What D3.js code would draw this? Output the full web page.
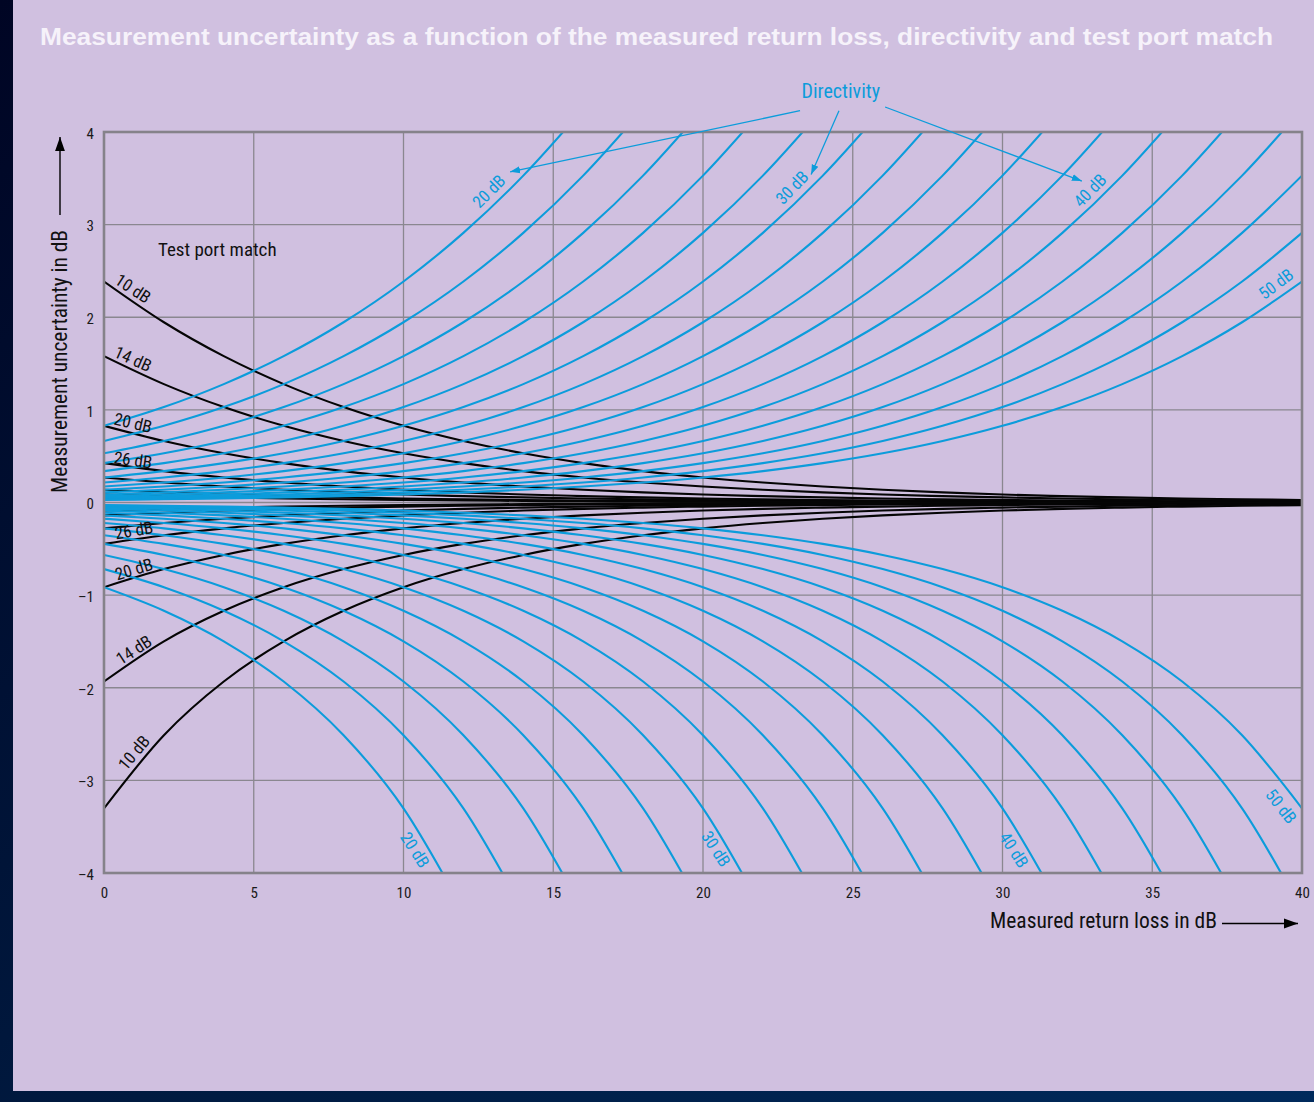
<!DOCTYPE html>
<html><head><meta charset="utf-8">
<script src="https://cdn.jsdelivr.net/npm/d3@7"></script>
<style>
html,body{margin:0;padding:0;background:#001a40;}
svg{display:block;}
</style></head><body>
<svg id="chart" width="1314" height="1102"></svg>
<script>
// ---------- DATA ----------
const returnLoss = [0,2,4,6,8,10,12,14,16,18,20,22,24,26,28,30,32,34,36,38,40];
const xTicks = [0,5,10,15,20,25,30,35,40];
const xTickLabels = ["0","5","10","15","20","25","30","35","40"];
const yTicks = [-4,-3,-2,-1,0,1,2,3,4];
const yTickLabels = ["\u20134","\u20133","\u20132","\u20131","0","1","2","3","4"];

const directivity = [20,22,24,26,28,30,32,34,36,38,40,42,44,46,48,50];
// upper uncertainty (dB) at returnLoss[0..], per directivity curve
const directivityUpper = [
 [0.828,1.030,1.278,1.580,1.946,2.386,2.911,3.529,4.249],
 [0.664,0.828,1.030,1.278,1.580,1.946,2.386,2.911,3.529,4.249],
 [0.531,0.664,0.828,1.030,1.278,1.580,1.946,2.386,2.911,3.529,4.249],
 [0.425,0.531,0.664,0.828,1.030,1.278,1.580,1.946,2.386,2.911,3.529,4.249],
 [0.339,0.425,0.531,0.664,0.828,1.030,1.278,1.580,1.946,2.386,2.911,3.529,4.249],
 [0.270,0.339,0.425,0.531,0.664,0.828,1.030,1.278,1.580,1.946,2.386,2.911,3.529,4.249],
 [0.216,0.270,0.339,0.425,0.531,0.664,0.828,1.030,1.278,1.580,1.946,2.386,2.911,3.529,4.249],
 [0.172,0.216,0.270,0.339,0.425,0.531,0.664,0.828,1.030,1.278,1.580,1.946,2.386,2.911,3.529,4.249],
 [0.137,0.172,0.216,0.270,0.339,0.425,0.531,0.664,0.828,1.030,1.278,1.580,1.946,2.386,2.911,3.529,4.249],
 [0.109,0.137,0.172,0.216,0.270,0.339,0.425,0.531,0.664,0.828,1.030,1.278,1.580,1.946,2.386,2.911,3.529,4.249],
 [0.086,0.109,0.137,0.172,0.216,0.270,0.339,0.425,0.531,0.664,0.828,1.030,1.278,1.580,1.946,2.386,2.911,3.529,4.249],
 [0.069,0.086,0.109,0.137,0.172,0.216,0.270,0.339,0.425,0.531,0.664,0.828,1.030,1.278,1.580,1.946,2.386,2.911,3.529,4.249],
 [0.055,0.069,0.086,0.109,0.137,0.172,0.216,0.270,0.339,0.425,0.531,0.664,0.828,1.030,1.278,1.580,1.946,2.386,2.911,3.529,4.249],
 [0.043,0.055,0.069,0.086,0.109,0.137,0.172,0.216,0.270,0.339,0.425,0.531,0.664,0.828,1.030,1.278,1.580,1.946,2.386,2.911,3.529],
 [0.035,0.043,0.055,0.069,0.086,0.109,0.137,0.172,0.216,0.270,0.339,0.425,0.531,0.664,0.828,1.030,1.278,1.580,1.946,2.386,2.911],
 [0.027,0.035,0.043,0.055,0.069,0.086,0.109,0.137,0.172,0.216,0.270,0.339,0.425,0.531,0.664,0.828,1.030,1.278,1.580,1.946,2.386]
];
const directivityLower = [
 [-0.915,-1.169,-1.499,-1.933,-2.513,-3.302,-4.409],
 [-0.719,-0.915,-1.169,-1.499,-1.933,-2.513,-3.302,-4.409],
 [-0.566,-0.719,-0.915,-1.169,-1.499,-1.933,-2.513,-3.302,-4.409],
 [-0.447,-0.566,-0.719,-0.915,-1.169,-1.499,-1.933,-2.513,-3.302,-4.409],
 [-0.353,-0.447,-0.566,-0.719,-0.915,-1.169,-1.499,-1.933,-2.513,-3.302,-4.409],
 [-0.279,-0.353,-0.447,-0.566,-0.719,-0.915,-1.169,-1.499,-1.933,-2.513,-3.302,-4.409],
 [-0.221,-0.279,-0.353,-0.447,-0.566,-0.719,-0.915,-1.169,-1.499,-1.933,-2.513,-3.302,-4.409],
 [-0.175,-0.221,-0.279,-0.353,-0.447,-0.566,-0.719,-0.915,-1.169,-1.499,-1.933,-2.513,-3.302,-4.409],
 [-0.139,-0.175,-0.221,-0.279,-0.353,-0.447,-0.566,-0.719,-0.915,-1.169,-1.499,-1.933,-2.513,-3.302,-4.409],
 [-0.110,-0.139,-0.175,-0.221,-0.279,-0.353,-0.447,-0.566,-0.719,-0.915,-1.169,-1.499,-1.933,-2.513,-3.302,-4.409],
 [-0.087,-0.110,-0.139,-0.175,-0.221,-0.279,-0.353,-0.447,-0.566,-0.719,-0.915,-1.169,-1.499,-1.933,-2.513,-3.302,-4.409],
 [-0.069,-0.087,-0.110,-0.139,-0.175,-0.221,-0.279,-0.353,-0.447,-0.566,-0.719,-0.915,-1.169,-1.499,-1.933,-2.513,-3.302,-4.409],
 [-0.055,-0.069,-0.087,-0.110,-0.139,-0.175,-0.221,-0.279,-0.353,-0.447,-0.566,-0.719,-0.915,-1.169,-1.499,-1.933,-2.513,-3.302,-4.409],
 [-0.044,-0.055,-0.069,-0.087,-0.110,-0.139,-0.175,-0.221,-0.279,-0.353,-0.447,-0.566,-0.719,-0.915,-1.169,-1.499,-1.933,-2.513,-3.302,-4.409],
 [-0.035,-0.044,-0.055,-0.069,-0.087,-0.110,-0.139,-0.175,-0.221,-0.279,-0.353,-0.447,-0.566,-0.719,-0.915,-1.169,-1.499,-1.933,-2.513,-3.302,-4.409],
 [-0.028,-0.035,-0.044,-0.055,-0.069,-0.087,-0.110,-0.139,-0.175,-0.221,-0.279,-0.353,-0.447,-0.566,-0.719,-0.915,-1.169,-1.499,-1.933,-2.513,-3.302]
];

const portMatch = [10,14,20,26,30,36,40];
const portMatchUpper = [
 [2.386,1.946,1.580,1.278,1.030,0.828,0.664,0.531,0.425,0.339,0.270,0.216,0.172,0.137,0.109,0.086,0.069,0.055,0.043,0.035,0.027],
 [1.580,1.278,1.030,0.828,0.664,0.531,0.425,0.339,0.270,0.216,0.172,0.137,0.109,0.086,0.069,0.055,0.043,0.035,0.027,0.022,0.017],
 [0.828,0.664,0.531,0.425,0.339,0.270,0.216,0.172,0.137,0.109,0.086,0.069,0.055,0.043,0.035,0.027,0.022,0.017,0.014,0.011,0.009],
 [0.425,0.339,0.270,0.216,0.172,0.137,0.109,0.086,0.069,0.055,0.043,0.035,0.027,0.022,0.017,0.014,0.011,0.009,0.007,0.005,0.004],
 [0.270,0.216,0.172,0.137,0.109,0.086,0.069,0.055,0.043,0.035,0.027,0.022,0.017,0.014,0.011,0.009,0.007,0.005,0.004,0.003,0.003],
 [0.137,0.109,0.086,0.069,0.055,0.043,0.035,0.027,0.022,0.017,0.014,0.011,0.009,0.007,0.005,0.004,0.003,0.003,0.002,0.002,0.001],
 [0.086,0.069,0.055,0.043,0.035,0.027,0.022,0.017,0.014,0.011,0.009,0.007,0.005,0.004,0.003,0.003,0.002,0.002,0.001,0.001,0.001]
];
const portMatchLower = [
 [-3.302,-2.513,-1.933,-1.499,-1.169,-0.915,-0.719,-0.566,-0.447,-0.353,-0.279,-0.221,-0.175,-0.139,-0.110,-0.087,-0.069,-0.055,-0.044,-0.035,-0.028],
 [-1.933,-1.499,-1.169,-0.915,-0.719,-0.566,-0.447,-0.353,-0.279,-0.221,-0.175,-0.139,-0.110,-0.087,-0.069,-0.055,-0.044,-0.035,-0.028,-0.022,-0.017],
 [-0.915,-0.719,-0.566,-0.447,-0.353,-0.279,-0.221,-0.175,-0.139,-0.110,-0.087,-0.069,-0.055,-0.044,-0.035,-0.028,-0.022,-0.017,-0.014,-0.011,-0.009],
 [-0.447,-0.353,-0.279,-0.221,-0.175,-0.139,-0.110,-0.087,-0.069,-0.055,-0.044,-0.035,-0.028,-0.022,-0.017,-0.014,-0.011,-0.009,-0.007,-0.005,-0.004],
 [-0.279,-0.221,-0.175,-0.139,-0.110,-0.087,-0.069,-0.055,-0.044,-0.035,-0.028,-0.022,-0.017,-0.014,-0.011,-0.009,-0.007,-0.005,-0.004,-0.003,-0.003],
 [-0.139,-0.110,-0.087,-0.069,-0.055,-0.044,-0.035,-0.028,-0.022,-0.017,-0.014,-0.011,-0.009,-0.007,-0.005,-0.004,-0.003,-0.003,-0.002,-0.002,-0.001],
 [-0.087,-0.069,-0.055,-0.044,-0.035,-0.028,-0.022,-0.017,-0.014,-0.011,-0.009,-0.007,-0.005,-0.004,-0.003,-0.003,-0.002,-0.002,-0.001,-0.001,-0.001]
];

const titleText = "Measurement uncertainty as a function of the measured return loss, directivity and test port match";
const yTitle = "Measurement uncertainty in dB";
const xTitle = "Measured return loss in dB";
const directivityLabelTexts = ["20 dB","30 dB","40 dB","50 dB","20 dB","30 dB","40 dB","50 dB"];
const portMatchLabelTexts = ["10 dB","14 dB","20 dB","26 dB","26 dB","20 dB","14 dB","10 dB"];

// ---------- LAYOUT ----------
const W = 1314, H = 1102;
const L = 104, R = 1302, T = 132, B = 873;
const FONT = "'Liberation Sans Narrow','Roboto Condensed','Arial Narrow','DejaVu Sans Condensed',sans-serif";
const BLUE = "#0c9cdb";

const svg = d3.select("#chart");
const defs = svg.append("defs");
const bg = defs.append("linearGradient").attr("id","bg")
  .attr("x1","0").attr("y1","0").attr("x2","1").attr("y2","1");
bg.append("stop").attr("offset","0").attr("stop-color","#000524");
bg.append("stop").attr("offset","0.55").attr("stop-color","#001a40");
bg.append("stop").attr("offset","1").attr("stop-color","#002a5c");
defs.append("clipPath").attr("id","plotClip").append("rect")
  .attr("x",L).attr("y",T).attr("width",R-L).attr("height",B-T);
function marker(id, color, size){
  defs.append("marker").attr("id",id).attr("viewBox","0 0 10 10")
    .attr("refX",10).attr("refY",5).attr("markerWidth",size).attr("markerHeight",size)
    .attr("markerUnits","userSpaceOnUse").attr("orient","auto")
    .append("path").attr("d","M0,1.5 L10,5 L0,8.5 Z").attr("fill",color);
}
marker("arrBlue", BLUE, 10);
marker("arrBlack", "#000", 14);

svg.append("rect").attr("width",W).attr("height",H).attr("fill","url(#bg)");
svg.append("rect").attr("x",13).attr("y",0).attr("width",W-13).attr("height",1091).attr("fill","#d0c0e0");

// title
svg.append("text").attr("x",40).attr("y",45)
  .attr("font-family","'Liberation Sans','Arial',sans-serif").attr("font-weight","bold")
  .attr("font-size",24.5).attr("fill","#f6f2fa")
  .attr("textLength",1233).attr("lengthAdjust","spacingAndGlyphs")
  .text(titleText);

const x = d3.scaleLinear().domain([0,40]).range([L,R]);
const y = d3.scaleLinear().domain([-4,4]).range([B,T]);

// grid
const grid = svg.append("g");
grid.selectAll("line.vx").data(xTicks.slice(1,-1)).join("line")
  .attr("x1",d=>x(d)).attr("x2",d=>x(d)).attr("y1",T).attr("y2",B)
  .attr("stroke","#8a8790").attr("stroke-width",1.3);
grid.selectAll("line.hy").data(yTicks.slice(1,-1)).join("line")
  .attr("y1",d=>y(d)).attr("y2",d=>y(d)).attr("x1",L).attr("x2",R)
  .attr("stroke","#8a8790").attr("stroke-width",1.3);

// axes (labels only)
const xAxis = svg.append("g").attr("transform",`translate(0,${B})`)
  .call(d3.axisBottom(x).tickValues(xTicks).tickSize(0).tickPadding(14)
    .tickFormat((d,i)=>xTickLabels[i]));
const yAxis = svg.append("g").attr("transform",`translate(${L},0)`)
  .call(d3.axisLeft(y).tickValues(yTicks).tickSize(0).tickPadding(10)
    .tickFormat((d,i)=>yTickLabels[i]));
[xAxis,yAxis].forEach(g=>{
  g.select(".domain").remove();
  g.selectAll("text").attr("font-family",FONT).attr("font-size",15).attr("fill","#1a1a1a");
});
yAxis.selectAll("text").attr("dy","0.42em");

// curves
const line = d3.line().x(d=>x(d[0])).y(d=>y(d[1])).curve(d3.curveMonotoneX);
const toPts = vals => vals.map((v,i)=>[returnLoss[i], v]);
const curves = svg.append("g").attr("clip-path","url(#plotClip)").attr("fill","none");
const blackG = curves.append("g").attr("stroke","#050505").attr("stroke-width",2.1);
portMatch.forEach((m,i)=>{
  blackG.append("path").attr("d",line(toPts(portMatchUpper[i])));
  blackG.append("path").attr("d",line(toPts(portMatchLower[i])));
});
const blueG = curves.append("g").attr("stroke",BLUE).attr("stroke-width",2.1);
directivity.forEach((d,i)=>{
  blueG.append("path").attr("d",line(toPts(directivityUpper[i])));
  blueG.append("path").attr("d",line(toPts(directivityLower[i])));
});

// frame
svg.append("rect").attr("x",L).attr("y",T).attr("width",R-L).attr("height",B-T)
  .attr("fill","none").attr("stroke","#85828a").attr("stroke-width",2.6);

// curve labels (positions in data units)
const blueLabelPos = [
  [12.85,3.36,-45],[22.97,3.40,-46],[32.92,3.37,-46],[39.13,2.36,-37],
  [10.38,-3.75,57],[20.43,-3.74,57],[30.38,-3.75,57],[39.30,-3.28,52]
];
svg.append("g").selectAll("text").data(blueLabelPos).join("text")
  .attr("transform",d=>`translate(${x(d[0])},${y(d[1])}) rotate(${d[2]})`)
  .attr("text-anchor","middle").attr("dominant-baseline","central")
  .attr("font-family",FONT).attr("font-size",17).attr("fill",BLUE)
  .text((d,i)=>directivityLabelTexts[i]);

const blackLabelPos = [
  [0.97,2.31,33],[0.97,1.55,24],[0.97,0.86,13],[0.97,0.46,8],
  [1.0,-0.30,-10],[1.0,-0.72,-17],[1.0,-1.59,-33],[1.0,-2.70,-50]
];
svg.append("g").selectAll("text").data(blackLabelPos).join("text")
  .attr("transform",d=>`translate(${x(d[0])},${y(d[1])}) rotate(${d[2]})`)
  .attr("text-anchor","middle").attr("dominant-baseline","central")
  .attr("font-family",FONT).attr("font-size",17).attr("fill","#111")
  .text((d,i)=>portMatchLabelTexts[i]);

svg.append("text").attr("x",x(1.8)).attr("y",y(2.66))
  .attr("font-family",FONT).attr("font-size",19).attr("fill","#111").text("Test port match");

// Directivity callout
svg.append("text").attr("x",x(24.6)).attr("y",y(4.37)).attr("text-anchor","middle")
  .attr("font-family",FONT).attr("font-size",20).attr("fill",BLUE).text("Directivity");
const arrows = [
  [[23.24,4.23],[13.56,3.57]],
  [[24.54,4.23],[23.61,3.54]],
  [[26.08,4.27],[32.65,3.47]]
];
svg.append("g").selectAll("line").data(arrows).join("line")
  .attr("x1",d=>x(d[0][0])).attr("y1",d=>y(d[0][1]))
  .attr("x2",d=>x(d[1][0])).attr("y2",d=>y(d[1][1]))
  .attr("stroke",BLUE).attr("stroke-width",1.3).attr("marker-end","url(#arrBlue)");

// axis titles
svg.append("text").attr("x",990).attr("y",928)
  .attr("font-family",FONT).attr("font-size",22).attr("fill","#111")
  .attr("textLength",227).attr("lengthAdjust","spacingAndGlyphs").text(xTitle);
svg.append("line").attr("x1",1222).attr("y1",923.5).attr("x2",1298).attr("y2",923.5)
  .attr("stroke","#000").attr("stroke-width",1.4).attr("marker-end","url(#arrBlack)");

svg.append("text").attr("transform","translate(67,493) rotate(-90)")
  .attr("font-family",FONT).attr("font-size",22).attr("fill","#111")
  .attr("textLength",263).attr("lengthAdjust","spacingAndGlyphs").text(yTitle);
svg.append("line").attr("x1",60).attr("y1",215).attr("x2",60).attr("y2",137)
  .attr("stroke","#000").attr("stroke-width",1.4).attr("marker-end","url(#arrBlack)");
</script>
</body></html>
